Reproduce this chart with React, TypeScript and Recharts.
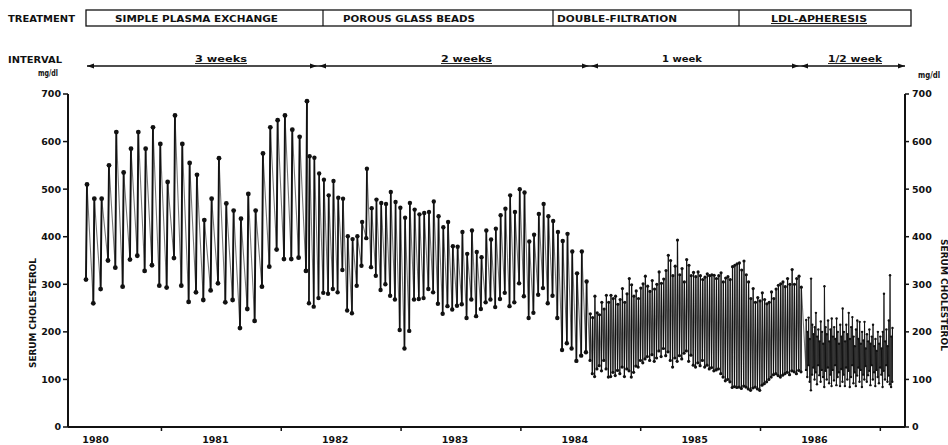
import React from "react";
import { LineChart, Line, XAxis, YAxis } from "recharts";

// session values (mg/dl): value after treatment (low) and before the next one (high)
const threeWeekLow = [310, 260, 290, 350, 335, 295, 352, 360, 328, 340, 297, 293, 355, 297, 263, 283, 267, 287, 302, 262, 267, 208, 248, 223, 295, 337, 373, 353, 353, 356, 328];
const threeWeekHigh = [510, 480, 480, 550, 620, 535, 585, 620, 585, 630, 595, 515, 655, 595, 555, 530, 435, 480, 565, 470, 455, 438, 490, 455, 575, 630, 645, 655, 625, 610, 685];

const twoWeekLow = [260, 253, 271, 282, 280, 290, 283, 330, 245, 239, 297, 339, 397, 336, 318, 288, 300, 276, 268, 204, 165, 202, 268, 269, 271, 290, 283, 259, 238, 254, 247, 255, 258, 229, 268, 233, 248, 262, 268, 252, 269, 282, 254, 262, 302, 275, 229, 240, 278, 292, 260, 276, 229, 162, 176, 165, 139, 150, 157];
const twoWeekHigh = [569, 566, 533, 520, 487, 517, 482, 480, 401, 395, 401, 431, 543, 460, 478, 471, 469, 494, 473, 461, 440, 471, 457, 447, 450, 452, 474, 443, 420, 431, 380, 379, 410, 364, 413, 368, 357, 413, 394, 417, 445, 459, 487, 452, 500, 493, 390, 404, 448, 469, 443, 433, 410, 391, 406, 369, 323, 369, 306];

const oneWeekLow = [140, 112, 106, 122, 129, 118, 140, 122, 105, 106, 115, 108, 119, 112, 126, 106, 122, 118, 105, 115, 128, 126, 140, 135, 143, 148, 140, 152, 138, 145, 160, 148, 165, 150, 158, 140, 126, 145, 138, 150, 143, 155, 160, 138, 151, 130, 126, 135, 129, 140, 126, 130, 122, 125, 118, 120, 122, 112, 105, 97, 100, 95, 83, 85, 83, 84, 81, 86, 84, 80, 77, 82, 84, 80, 77, 88, 91, 95, 100, 105, 110, 112, 108, 105, 109, 112, 115, 110, 118, 116, 112, 119, 116];
const oneWeekHigh = [238, 230, 275, 240, 236, 262, 248, 277, 262, 277, 270, 275, 258, 268, 291, 262, 280, 312, 299, 275, 286, 270, 292, 301, 317, 296, 285, 308, 290, 300, 326, 302, 311, 329, 361, 350, 318, 338, 393, 320, 333, 305, 352, 340, 318, 325, 316, 326, 318, 310, 315, 322, 318, 320, 319, 312, 318, 324, 305, 313, 316, 310, 337, 340, 343, 345, 330, 349, 320, 305, 270, 291, 262, 272, 265, 282, 268, 259, 262, 284, 270, 290, 298, 301, 305, 295, 312, 300, 331, 300, 312, 317, 294];

const halfWeekLow = [120, 105, 130, 95, 77, 110, 125, 100, 115, 90, 130, 109, 95, 120, 105, 84, 118, 100, 125, 92, 110, 86, 120, 98, 130, 88, 105, 115, 86, 122, 95, 110, 86, 125, 100, 118, 84, 105, 130, 92, 115, 86, 108, 125, 95, 120, 84, 110, 100, 128, 95, 109, 118, 88, 130, 100, 115, 86, 120, 105, 92, 125, 110, 84, 118, 100, 130, 95, 108, 90, 84, 95];
const halfWeekHigh = [225, 200, 230, 185, 312, 215, 195, 210, 240, 190, 205, 180, 222, 200, 175, 296, 210, 195, 224, 180, 205, 228, 190, 210, 185, 228, 200, 175, 215, 190, 249, 200, 180, 215, 195, 240, 185, 210, 231, 190, 170, 205, 224, 185, 221, 175, 200, 182, 221, 165, 195, 180, 205, 175, 190, 215, 170, 185, 160, 200, 175, 190, 165, 200, 280, 180, 205, 170, 224, 319, 190, 208];

// first and last session of each period (decimal year)
const periodStart = [1979.92, 1981.781, 1984.127, 1985.93];
const periodEnd = [1981.756, 1984.093, 1985.888, 1986.65];

const years = [1980, 1981, 1982, 1983, 1984, 1985, 1986];
const yTicks = [0, 100, 200, 300, 400, 500, 600, 700];
const treatmentNames = ["SIMPLE PLASMA EXCHANGE", "POROUS GLASS BEADS", "DOUBLE-FILTRATION", "LDL-APHERESIS"];
const intervalNames = ["3 weeks", "2 weeks", "1 week", "1/2 week"];

const FONT = "'DejaVu Sans', sans-serif";
const lows = [threeWeekLow, twoWeekLow, oneWeekLow, halfWeekLow];
const highs = [threeWeekHigh, twoWeekHigh, oneWeekHigh, halfWeekHigh];
const dotR = [2.4, 2.2, 1.6, 1.2];
const segWidth = [1.9, 1.7, 1.2, 1.0];

type Pt = { t: number; v: number | null; r?: number };

const trend: Pt[] = [];
const segs: Pt[][] = [];
lows.forEach((lo, p) => {
  const step = (periodEnd[p] - periodStart[p]) / (lo.length - 1);
  const lag = step * 0.14;
  const seg: Pt[] = [];
  lo.forEach((l, i) => {
    const t = periodStart[p] + i * step;
    trend.push({ t, v: l, r: dotR[p] }, { t: t + lag, v: highs[p][i], r: dotR[p] });
    seg.push({ t, v: l }, { t: t + lag, v: highs[p][i] }, { t: t + lag * 2, v: null });
  });
  segs.push(seg);
});

const xTicks = years.flatMap((y) => [y, +(y + 0.55).toFixed(2)]);

const YearTick = (props: any) => {
  const { x, y, payload } = props;
  const v = payload.value;
  if (Number.isInteger(v)) {
    return (
      <text x={x} y={y + 16} textAnchor="middle" fontSize={9.5} fontWeight="bold" fontFamily={FONT} fill="#111">
        {v}
      </text>
    );
  }
  return <line x1={x} x2={x} y1={y} y2={y + 4} stroke="#111" strokeWidth={1.5} />;
};

const Dot = (p: any) => {
  if (p.cy == null || p.cx == null) return <g key={`d-${p.index}`} />;
  return <circle key={`d-${p.index}`} cx={p.cx} cy={p.cy} r={p.payload.r} fill="#111" />;
};

const arrow = (x: number, dir: number, y: number) => (
  <polygon key={`a${x}-${dir}`} points={`${x},${y} ${x - dir * 7},${y - 2.5} ${x - dir * 7},${y + 2.5}`} fill="#111" />
);

const Overlay = () => {
  const boxX = [86, 323, 553, 739, 911];
  const boxText = [
    [115, 163],
    [343, 132],
    [557, 120],
    [771, 96],
  ];
  const bounds = [87, 318, 590, 800, 905];
  const intText = [
    [195, 52],
    [441, 51],
    [662, 40],
    [828, 54],
  ];
  return (
    <svg width={948} height={445} style={{ position: "absolute", left: 0, top: 0, pointerEvents: "none" }}>
      <g fontFamily={FONT} fontWeight="bold" fill="#111">
        <text x={8} y={22} fontSize={9} textLength={67} lengthAdjust="spacingAndGlyphs">TREATMENT</text>
        <rect x={boxX[0]} y={10} width={boxX[4] - boxX[0]} height={16} fill="none" stroke="#111" strokeWidth={1.3} />
        {boxX.slice(1, 4).map((x) => (
          <line key={x} x1={x} x2={x} y1={10} y2={26} stroke="#111" strokeWidth={1.2} />
        ))}
        {treatmentNames.map((n, i) => (
          <text key={n} x={boxText[i][0]} y={22} fontSize={9.5} textLength={boxText[i][1]} lengthAdjust="spacingAndGlyphs"
            textDecoration={i === 3 ? "underline" : undefined}>
            {n}
          </text>
        ))}
        <text x={8} y={63} fontSize={8.5} textLength={54} lengthAdjust="spacingAndGlyphs">INTERVAL</text>
        <line x1={bounds[0]} x2={bounds[4]} y1={66} y2={66} stroke="#111" strokeWidth={1.4} />
        {arrow(bounds[0], -1, 66)}
        {bounds.slice(1, 4).flatMap((b) => [arrow(b - 1, 1, 66), arrow(b + 1, -1, 66)])}
        {arrow(bounds[4], 1, 66)}
        {intervalNames.map((n, i) => (
          <text key={n} x={intText[i][0]} y={62} fontSize={9} textLength={intText[i][1]} lengthAdjust="spacingAndGlyphs"
            textDecoration={i === 2 ? undefined : "underline"}>
            {n}
          </text>
        ))}
        <text x={38} y={76} fontSize={8} textLength={20} lengthAdjust="spacingAndGlyphs">mg/dl</text>
        <text x={918} y={78} fontSize={8} textLength={22} lengthAdjust="spacingAndGlyphs">mg/dl</text>
        <text transform="translate(36,313) rotate(-90)" textAnchor="middle" fontSize={8.5} textLength={110} lengthAdjust="spacingAndGlyphs">
          SERUM  CHOLESTEROL
        </text>
        <text transform="translate(941,295) rotate(90)" textAnchor="middle" fontSize={8.5} textLength={112} lengthAdjust="spacingAndGlyphs">
          SERUM  CHOLESTEROL
        </text>
      </g>
    </svg>
  );
};

const App: React.FC = () => {
  const tickStyle = { fontSize: 9.5, fontWeight: "bold", fontFamily: FONT, fill: "#111" };
  return (
    <div style={{ position: "absolute", left: 0, top: 0, width: 948, height: 445, background: "#fff" }}>
      <LineChart width={948} height={445} margin={{ top: 94, right: 0, bottom: 0, left: 0 }}>
        <XAxis
          dataKey="t"
          type="number"
          domain={[1979.77, 1986.756]}
          allowDataOverflow
          ticks={xTicks}
          interval={0}
          tick={<YearTick />}
          tickLine={false}
          tickSize={0}
          tickMargin={0}
          height={18}
          axisLine={{ stroke: "#111", strokeWidth: 2 }}
        />
        <YAxis
          yAxisId="left"
          domain={[0, 700]}
          ticks={yTicks}
          width={68}
          tick={tickStyle}
          tickSize={5}
          tickMargin={2}
          axisLine={{ stroke: "#111", strokeWidth: 2 }}
          tickLine={{ stroke: "#111", strokeWidth: 1.5 }}
        />
        <YAxis
          yAxisId="right"
          orientation="right"
          domain={[0, 700]}
          ticks={yTicks}
          width={43}
          tick={{ ...tickStyle, textAnchor: "start" }}
          tickSize={4}
          tickMargin={3}
          axisLine={{ stroke: "#111", strokeWidth: 2 }}
          tickLine={{ stroke: "#111", strokeWidth: 1.5 }}
        />
        <Line
          yAxisId="left"
          data={trend}
          dataKey="v"
          type="linear"
          stroke="#777"
          strokeWidth={1.1}
          dot={false}
          activeDot={false}
          isAnimationActive={false}
        />
        {segs.map((s, i) => (
          <Line
            key={`seg${i}`}
            yAxisId="left"
            data={s}
            dataKey="v"
            type="linear"
            stroke="#111"
            strokeWidth={segWidth[i]}
            dot={false}
            activeDot={false}
            isAnimationActive={false}
          />
        ))}
        <Line
          yAxisId="right"
          data={trend}
          dataKey="v"
          type="linear"
          stroke="none"
          dot={Dot}
          activeDot={false}
          isAnimationActive={false}
        />
      </LineChart>
      <Overlay />
    </div>
  );
};

export default App;
